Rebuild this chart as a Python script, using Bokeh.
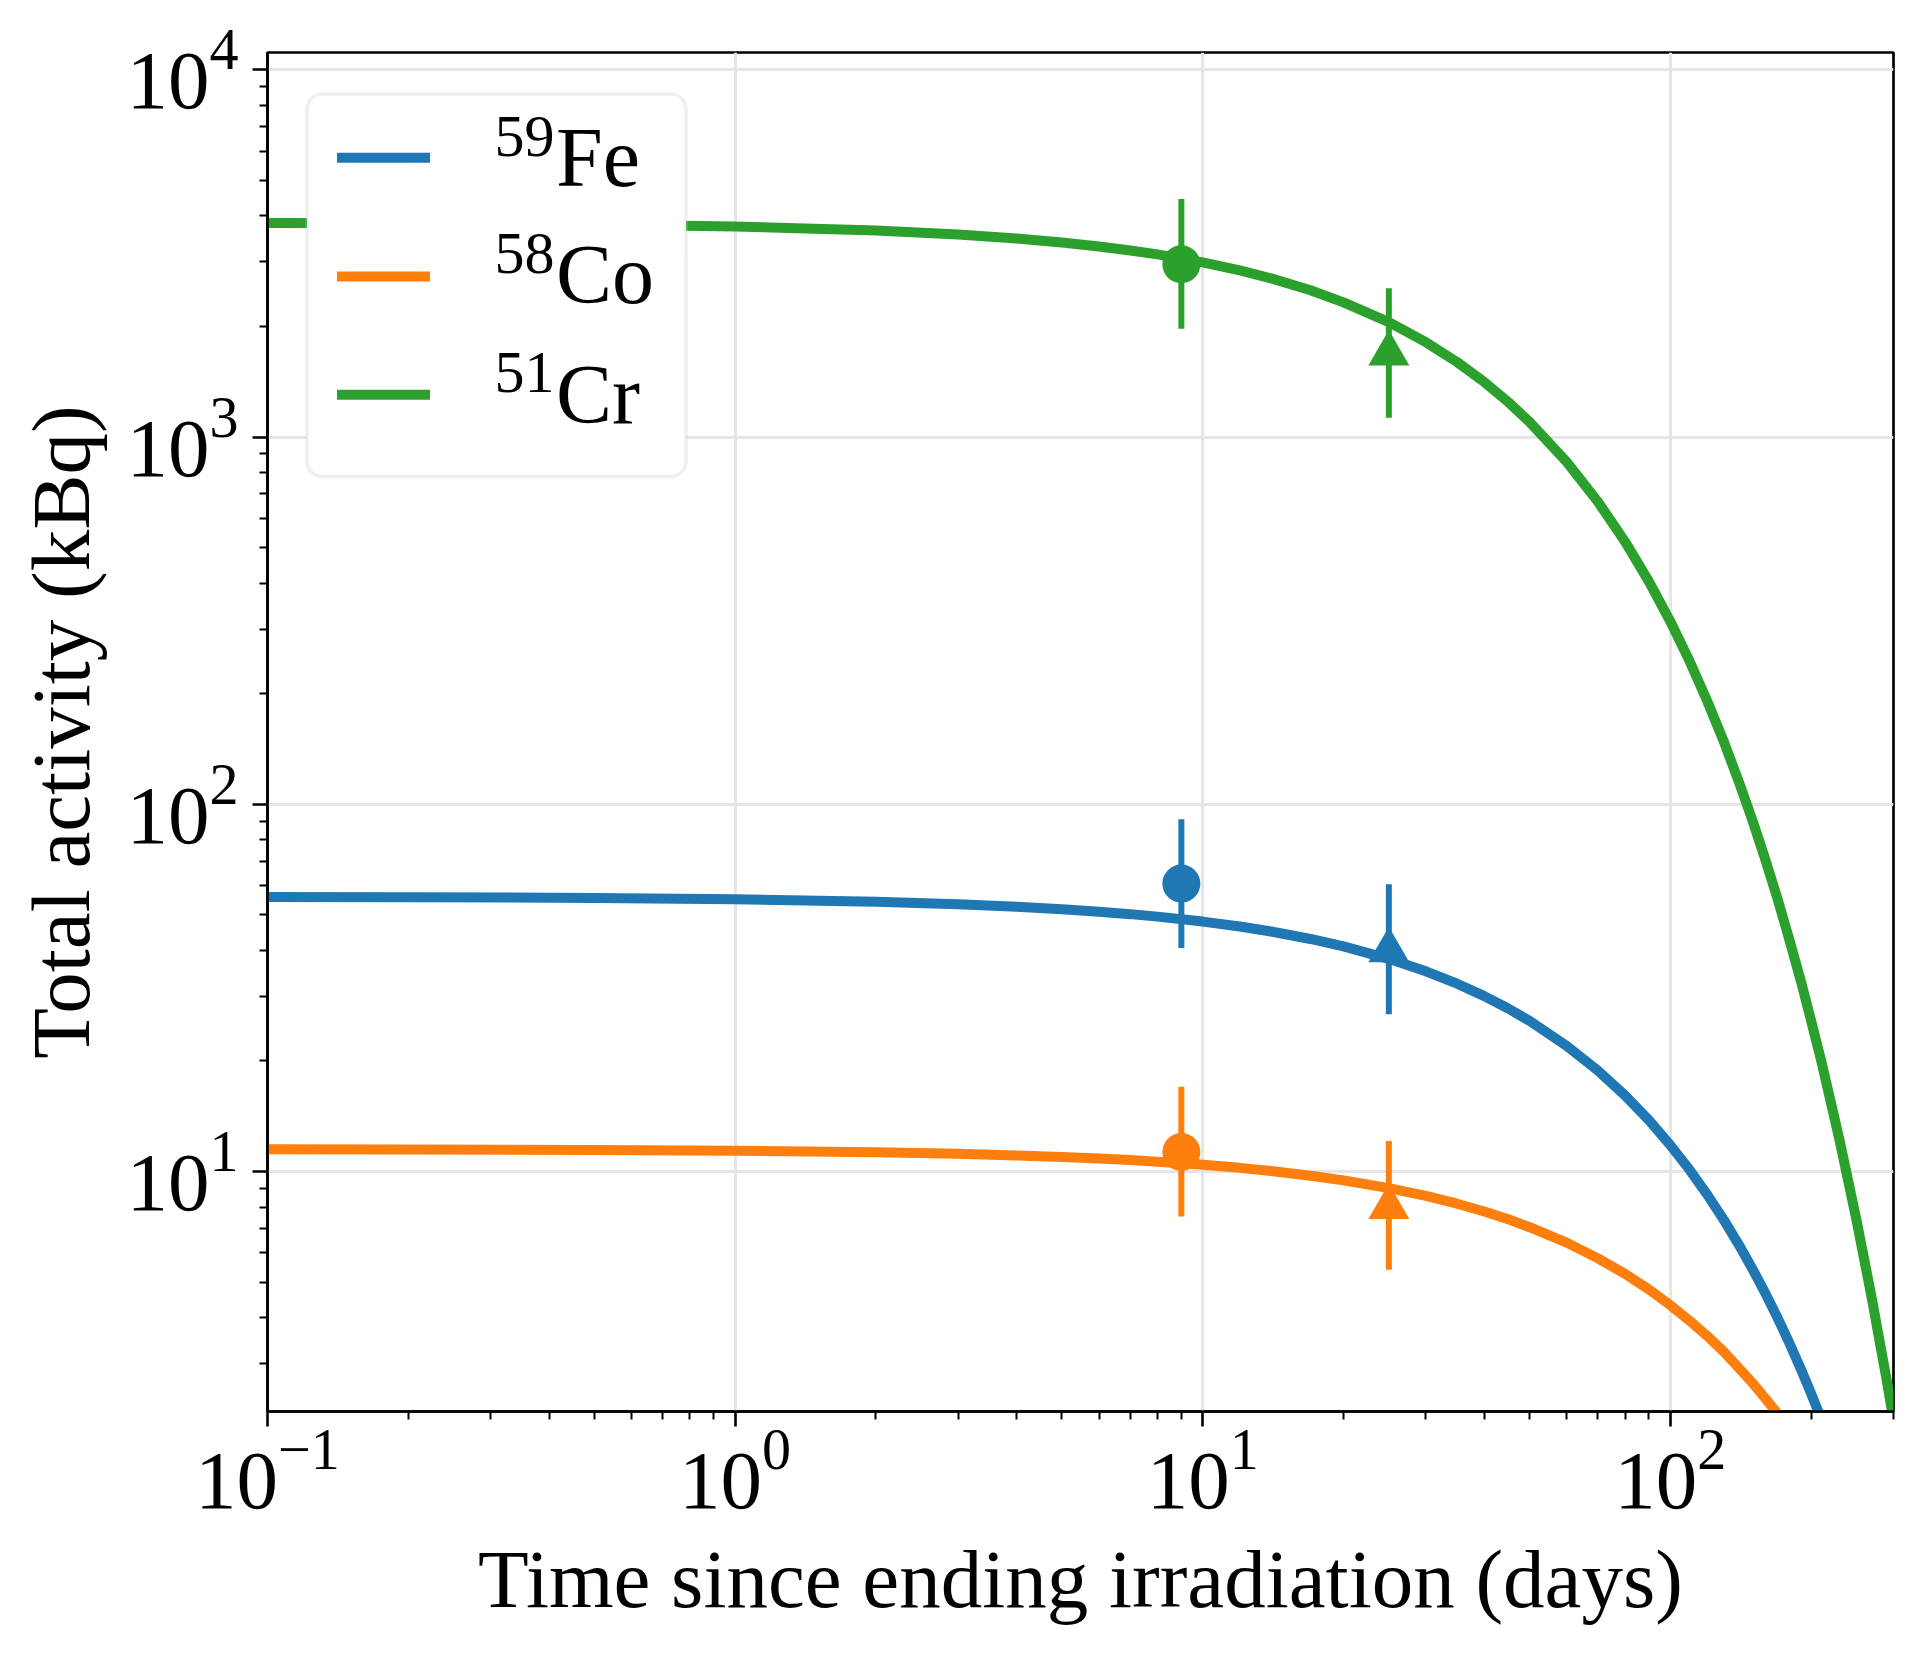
from bokeh.plotting import figure
from bokeh.models import ColumnDataSource, BoxAnnotation, Label, Range1d, FixedTicker
from bokeh.embed import file_html
from bokeh.resources import INLINE

# ---------------- data ----------------
t_days = [0.1, 0.2, 0.5, 1, 2, 3, 4, 5, 6, 7, 8, 10, 12, 14, 17, 20, 25, 30, 35,
          40, 45, 50, 60, 70, 80, 90, 100, 110, 120, 130, 140, 150, 160, 170,
          180, 190, 200, 210, 220, 230, 240, 250, 260, 270, 280, 290, 300]
fe59_curve = [55.9, 55.8, 55.6, 55.1, 54.28, 53.44, 52.62, 51.80, 51.00, 50.21,
              49.44, 47.92, 46.45, 45.03, 42.97, 41.01, 37.93, 35.09, 32.46,
              30.03, 27.78, 25.70, 21.99, 18.82, 16.10, 13.78, 11.79, 10.09,
              8.636, 7.390, 6.324, 5.411, 4.631, 3.963, 3.391, 2.902, 2.483,
              2.125, 1.818]
co58_curve = [11.49, 11.48, 11.44, 11.39, 11.28, 11.17, 11.06, 10.95, 10.84,
              10.74, 10.63, 10.43, 10.23, 10.03, 9.74, 9.46, 9.01, 8.58, 8.17,
              7.78, 7.41, 7.05, 6.40, 5.80, 5.26, 4.77, 4.32, 3.92, 3.56, 3.23,
              2.92, 2.65, 2.40, 2.18, 1.98]
cr51_curve = [3830, 3821, 3792, 3745, 3653, 3562, 3474, 3389, 3305, 3223, 3144,
              2990, 2844, 2705, 2510, 2327, 2055, 1813, 1600, 1412, 1246, 1099,
              856, 666.5, 518.9, 403.9, 314.5, 244.9, 190.5, 148.5, 115.4, 90.0,
              70.0, 54.6, 42.4, 33.1, 25.7, 20.1, 15.56, 12.17, 9.43, 7.38,
              5.72, 4.47, 3.46, 2.71, 2.10]

meas_days = [9, 25]
meas_markers = ["circle", "triangle"]
fe59_meas = [60.8, 40.0]
fe59_low = [40.6, 26.8]
fe59_high = [91.0, 60.6]
co58_meas = [11.3, 8.0]
co58_low = [7.54, 5.40]
co58_high = [17.0, 12.1]
cr51_meas = [2955, 1687]
cr51_low = [1972, 1129]
cr51_high = [4450, 2541]

series_names = [("59", "Fe"), ("58", "Co"), ("51", "Cr")]
colors = ["#1f77b4", "#ff7f0e", "#2ca02c"]

x_major = [0.1, 1, 10, 100]
x_minor = [0.2, 0.3, 0.4, 0.5, 0.6, 0.7, 0.8, 0.9, 2, 3, 4, 5, 6, 7, 8, 9,
           20, 30, 40, 50, 60, 70, 80, 90, 200, 300]
y_major = [10, 100, 1000, 10000]
y_minor = [3, 4, 5, 6, 7, 8, 9, 20, 30, 40, 50, 60, 70, 80, 90,
           200, 300, 400, 500, 600, 700, 800, 900, 2000, 3000, 4000, 5000,
           6000, 7000, 8000, 9000]

x_label = "Time since ending irradiation (days)"
y_label = "Total activity (kBq)"

# ---------------- figure ----------------
FONT = "Liberation Serif"
p = figure(width=1924, height=1659, x_axis_type="log", y_axis_type="log",
           x_range=Range1d(0.1, 300), y_range=Range1d(2.22, 11150),
           output_backend="svg", toolbar_location=None,
           min_border_left=267, min_border_right=31,
           min_border_top=52, min_border_bottom=248)
p.background_fill_color = "white"
p.border_fill_color = "white"
p.outline_line_color = "black"
p.outline_line_width = 2.7

p.xaxis.ticker = FixedTicker(ticks=x_major, minor_ticks=x_minor)
p.yaxis.ticker = FixedTicker(ticks=y_major, minor_ticks=y_minor)

for ax in (p.xaxis[0], p.yaxis[0]):
    ax.axis_line_width = 2.7
    ax.axis_line_color = "black"
    ax.major_tick_line_width = 2.6
    ax.minor_tick_line_width = 2.0
    ax.major_tick_out = 15
    ax.major_tick_in = 0
    ax.minor_tick_out = 8
    ax.minor_tick_in = 0
    ax.major_label_text_font = FONT
    ax.major_label_text_font_size = "83px"
    ax.major_label_text_color = "black"
    ax.axis_label_text_font = FONT
    ax.axis_label_text_font_size = "83px"
    ax.axis_label_text_font_style = "normal"
    ax.axis_label_text_color = "black"

p.xaxis.axis_label = x_label
p.yaxis.axis_label = y_label
p.xaxis.major_label_standoff = 4
p.yaxis.major_label_standoff = 14
p.xaxis.axis_label_standoff = 22
p.yaxis.axis_label_standoff = 16

for g in (p.xgrid[0], p.ygrid[0]):
    g.grid_line_color = "#e5e5e5"
    g.grid_line_width = 3

curves = [fe59_curve, co58_curve, cr51_curve]
meas = [(fe59_meas, fe59_low, fe59_high),
        (co58_meas, co58_low, co58_high),
        (cr51_meas, cr51_low, cr51_high)]

for curve, color in zip(curves, colors):
    p.line(t_days[:len(curve)], curve, line_color=color, line_width=10)

for (vals, low, high), color in zip(meas, colors):
    src = ColumnDataSource(dict(x=meas_days, y=vals, lo=low, hi=high,
                                m=meas_markers, s=[38, 41]))
    p.segment(x0="x", y0="lo", x1="x", y1="hi", source=src,
              line_color=color, line_width=6)
    p.scatter(x="x", y="y", marker="m", size="s", source=src,
              fill_color=color, line_color=color, line_width=0)

# ---------------- legend (drawn by hand for the superscripts) ----------------
p.add_layout(BoxAnnotation(left=39.5, right=418.5, bottom=935, top=1317.5,
                           left_units="screen", right_units="screen",
                           top_units="screen", bottom_units="screen",
                           fill_color="white", fill_alpha=1.0,
                           line_color="#cccccc", line_width=3.5,
                           border_radius=15, level="annotation"))
row_line_y = [1253.7, 1135.0, 1016.7]
row_base_y = [1225.7, 1109.0, 988.4]
sup_base_y = [1254.7, 1137.4, 1018.4]
EL_SIZE = 84
SUP_SIZE = 60
for (mass, elem), color, ly, by, sy in zip(series_names, colors, row_line_y,
                                           row_base_y, sup_base_y):
    p.add_layout(BoxAnnotation(left=69.5, right=162.5, bottom=ly - 5, top=ly + 5,
                               left_units="screen", right_units="screen",
                               top_units="screen", bottom_units="screen",
                               fill_color=color, fill_alpha=1.0, line_alpha=0,
                               level="annotation"))
    p.add_layout(Label(x=227, y=sy + 0.3375 * SUP_SIZE, x_units="screen",
                       y_units="screen", text=mass, text_font=FONT,
                       text_font_size=f"{SUP_SIZE}px", text_color="black",
                       text_baseline="middle", text_align="left",
                       level="annotation"))
    p.add_layout(Label(x=288.5, y=by + 0.3375 * EL_SIZE, x_units="screen",
                       y_units="screen", text=elem, text_font=FONT,
                       text_font_size=f"{EL_SIZE}px", text_color="black",
                       text_baseline="middle", text_align="left",
                       level="annotation"))

open("out.html", "w").write(file_html(p, INLINE))
